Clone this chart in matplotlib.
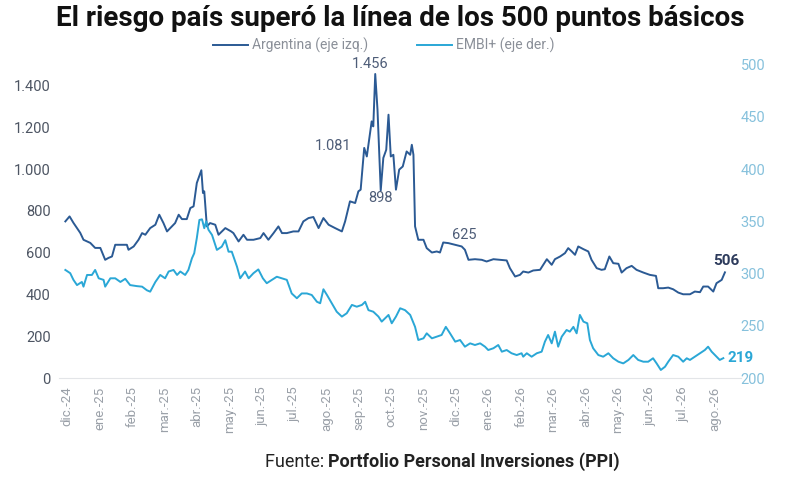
import matplotlib
matplotlib.use("Agg")
import matplotlib.pyplot as plt
from matplotlib.ticker import FuncFormatter

plt.rcParams['font.family'] = ['Roboto', 'DejaVu Sans']

# meses desde dic.-24 (0 = dic.-24)
meses_labels = ['dic.-24', 'ene.-25', 'feb.-25', 'mar.-25', 'abr.-25', 'may.-25', 'jun.-25',
                'jul.-25', 'ago.-25', 'sep.-25', 'oct.-25', 'nov.-25', 'dic.-25', 'ene.-26',
                'feb.-26', 'mar.-26', 'abr.-26', 'may.-26', 'jun.-26', 'jul.-26', 'ago.-26']

# Riesgo pais Argentina (eje izq.)
arg_t = [-0.06, 0.07, 0.19, 0.40, 0.50, 0.71, 0.86, 1.02, 1.17, 1.27, 1.38, 1.48, 1.69, 1.84,
         1.89, 2.05, 2.20, 2.31, 2.41, 2.56, 2.72, 2.84, 2.97, 3.08, 3.23, 3.33, 3.44, 3.54,
         3.69, 3.80, 3.90, 4.00, 4.14, 4.19, 4.23, 4.31, 4.41, 4.57, 4.67, 4.88, 5.06, 5.13,
         5.29, 5.44, 5.55, 5.75, 5.96, 6.06, 6.21, 6.37, 6.52, 6.63, 6.78, 6.98, 7.14, 7.29,
         7.45, 7.60, 7.76, 7.91, 8.07, 8.27, 8.48, 8.58, 8.73, 8.89, 8.99, 9.06, 9.17, 9.25,
         9.35, 9.40, 9.45, 9.51, 9.58, 9.68, 9.76, 9.85, 9.92, 9.99, 10.07, 10.15, 10.25,
         10.36, 10.48, 10.59, 10.64, 10.69, 10.74, 10.84, 11.00, 11.10, 11.26, 11.41, 11.51,
         11.61, 11.77, 11.98, 12.18, 12.28, 12.39, 12.59, 12.80, 12.95, 13.16, 13.36, 13.57,
         13.67, 13.83, 13.98, 14.08, 14.24, 14.39, 14.60, 14.81, 14.96, 15.06, 15.22, 15.37,
         15.47, 15.58, 15.68, 15.78, 15.94, 16.09, 16.19, 16.35, 16.50, 16.60, 16.74, 16.86,
         17.02, 17.12, 17.27, 17.43, 17.58, 17.79, 17.99, 18.18, 18.25, 18.40, 18.56, 18.71,
         18.87, 19.02, 19.23, 19.38, 19.54, 19.64, 19.79, 19.95, 20.05, 20.21, 20.31]
arg_v = [750, 774, 743, 695, 662, 647, 623, 623, 566, 575, 582, 638, 638, 638,
         614, 630, 662, 694, 686, 718, 734, 782, 742, 702, 726, 742, 782, 761,
         761, 814, 822, 934, 995, 886, 894, 726, 742, 734, 686, 718, 702, 694,
         654, 686, 662, 662, 670, 694, 662, 694, 726, 694, 694, 702, 702, 750,
         766, 771, 718, 766, 734, 718, 702, 750, 846, 838, 894, 902, 1102, 1061,
         1174, 1229, 1205, 1456, 1285, 898, 1054, 1093, 1261, 1061, 1069, 902, 998,
         1013, 1085, 1069, 1117, 1069, 726, 662, 662, 622, 601, 606, 601,
         649, 646, 638, 630, 614, 566, 569, 566, 558, 569, 566, 563,
         526, 486, 494, 510, 505, 515, 518, 569, 542, 569, 582, 598,
         622, 606, 590, 630, 617, 606, 566, 526, 518, 521, 582, 550,
         547, 505, 526, 537, 518, 505, 494, 489, 430, 430, 433, 425,
         409, 401, 401, 414, 411, 438, 438, 414, 454, 470, 506]

# EMBI+ (eje der.)
embi_t = [-0.06, 0.09, 0.19, 0.30, 0.45, 0.50, 0.61, 0.76, 0.86, 0.97, 1.12, 1.17, 1.33, 1.48,
          1.64, 1.79, 1.94, 2.15, 2.31, 2.46, 2.56, 2.72, 2.87, 3.02, 3.13, 3.28, 3.39, 3.49,
          3.64, 3.74, 3.85, 3.92, 4.00, 4.08, 4.16, 4.23, 4.29, 4.36, 4.47, 4.62, 4.77, 4.88,
          4.98, 5.08, 5.24, 5.34, 5.49, 5.60, 5.75, 5.90, 6.04, 6.16, 6.32, 6.47, 6.63, 6.78,
          6.93, 7.09, 7.24, 7.40, 7.55, 7.71, 7.81, 7.91, 8.02, 8.17, 8.32, 8.48, 8.63, 8.79,
          8.94, 9.10, 9.20, 9.30, 9.45, 9.61, 9.71, 9.81, 9.92, 10.02, 10.15, 10.28, 10.43,
          10.59, 10.74, 10.84, 11.00, 11.10, 11.26, 11.41, 11.56, 11.69, 11.82, 11.98, 12.13,
          12.28, 12.44, 12.59, 12.75, 12.90, 13.00, 13.16, 13.31, 13.42, 13.57, 13.72, 13.88,
          14.03, 14.08, 14.19, 14.34, 14.50, 14.65, 14.75, 14.85, 14.96, 15.06, 15.16, 15.27,
          15.42, 15.52, 15.63, 15.73, 15.83, 15.94, 16.06, 16.14, 16.24, 16.40, 16.55, 16.71,
          16.86, 17.02, 17.17, 17.33, 17.48, 17.63, 17.79, 17.94, 18.09, 18.20, 18.33, 18.46,
          18.56, 18.71, 18.87, 19.02, 19.13, 19.23, 19.38, 19.54, 19.69, 19.79, 19.90, 20.05,
          20.15, 20.26]
embi_v = [303.5, 300.4, 294, 289, 292, 287.5, 298.7, 298.7, 303.5, 295.5, 294, 287.5, 295.5, 295.5,
          292, 295, 289, 288, 287.5, 284, 282.7, 292, 298.7, 295.5, 302, 303.5, 298.7, 302,
          298.7, 303.5, 314.7, 319.5, 334, 351.4, 352, 343.5, 350, 342, 337, 322.7, 325.8, 332,
          321, 321, 306.7, 295.5, 302, 295.5, 300.4, 304, 295.5, 290.8, 294, 297, 295.5, 294,
          281, 276.4, 281, 281, 279.5, 273, 271.6, 285, 279.5, 271.6, 263.5, 258.8, 262, 270,
          268.3, 270, 273, 265, 263.5, 258.8, 254, 257, 260.4, 252.4, 258.8, 266.8, 265,
          260.4, 249, 236.4, 238, 242.8, 238, 239.6, 241.2, 249, 242.8, 234.8, 236.4,
          230, 233.2, 231.6, 233.2, 230, 226.8, 228.5, 231.6, 225.2, 226.8, 223.7, 222,
          223.7, 220.4, 223.7, 220.4, 223.7, 225.2, 234.8, 241.2, 233.2, 244.4, 230, 239.6,
          246, 244.4, 249, 242.8, 260.4, 254, 252.4, 236.4, 228.5, 222, 220.4, 223.7,
          218.9, 215.6, 214, 217.3, 222, 217.3, 215.6, 215.6, 218.9, 214, 207.7, 210.8,
          215.6, 222, 220.4, 215.6, 218.9, 217.3, 220.4, 223.7, 226.8, 230, 225.2, 220.4,
          217.3, 219]

# etiquetas destacadas (indice en arg_v)
arg_marcas = {'1.081': 68, '1.456': 73, '898': 75, '625': 98}

c_arg = '#2b5a94'
c_embi = '#2aa7d6'

fig = plt.figure(figsize=(8, 4.8), dpi=100)
ax = fig.add_axes([0.074, 0.2125, 0.852, 0.6525])
ax2 = ax.twinx()

ax.plot(arg_t, arg_v, color=c_arg, lw=1.4, label='Argentina (eje izq.)', zorder=3)
ax2.plot(embi_t, embi_v, color=c_embi, lw=1.4, label='EMBI+ (eje der.)', zorder=3)

ax.set_xlim(-0.25, 20.8)
ax.set_ylim(0, 1500)
ax2.set_ylim(200, 500)
ax.set_yticks(range(0, 1401, 200))
ax2.set_yticks(range(200, 501, 50))
ax.yaxis.set_major_formatter(FuncFormatter(lambda v, p: f'{int(v):,}'.replace(',', '.')))
ax.set_xticks(range(len(meses_labels)))
ax.set_xticklabels(meses_labels, rotation=90)

for a in (ax, ax2):
    for s in a.spines.values():
        s.set_visible(False)
    a.tick_params(length=0)
ax.spines['bottom'].set_visible(True)
ax.spines['bottom'].set_color('#e3e5e8')
ax.tick_params(axis='y', labelsize=10.5, colors='#4d5563', pad=6)
ax.tick_params(axis='x', labelsize=9.5, colors='#9aa0a8', pad=6)
ax2.tick_params(axis='y', labelsize=10.5, colors='#86c1dc', pad=0)

# anotaciones (desplazamientos en pixeles)
offs = {'1.081': (-31, 2, 'center'), '1.456': (-5, 3, 'bottom'),
        '898': (0, -1, 'top'), '625': (3, 4, 'bottom')}
for txt, i in arg_marcas.items():
    dx, dy, va = offs[txt]
    ax.annotate(txt, (arg_t[i], arg_v[i]), xytext=(dx, dy), textcoords='offset pixels',
                ha='center', va=va, fontsize=10.5, color='#4e5d78')
ax.annotate('506', (arg_t[-1], arg_v[-1]), xytext=(1, 4), textcoords='offset pixels',
            ha='center', va='bottom', fontsize=11, fontweight='bold', color='#2d3b5c')
ax2.annotate('219', (embi_t[-1], embi_v[-1]), xytext=(4, 0), textcoords='offset pixels',
             ha='left', va='center', fontsize=11, fontweight='bold', color=c_embi)

h1, l1 = ax.get_legend_handles_labels()
h2, l2 = ax2.get_legend_handles_labels()
fig.legend(h1 + h2, l1 + l2, loc='center', bbox_to_anchor=(0.48, 0.905), ncol=2,
           frameon=False, fontsize=10, labelcolor='#8a8f98', handlelength=2.5,
           columnspacing=3.5, handletextpad=0.3)

fig.text(0.5, 0.962, 'El riesgo país superó la línea de los 500 puntos básicos',
         ha='center', va='center', fontsize=20, fontweight='bold', color='#111111')

t1 = fig.text(0.331, 0.038, 'Fuente: ', ha='left', va='center', fontsize=13, color='#222222')
fig.canvas.draw()
bb = t1.get_window_extent()
fig.text(bb.x1 / fig.bbox.width, 0.038, 'Portfolio Personal Inversiones (PPI)',
         ha='left', va='center', fontsize=13, fontweight='bold', color='#222222')

fig.savefig('out.png', dpi=100)
